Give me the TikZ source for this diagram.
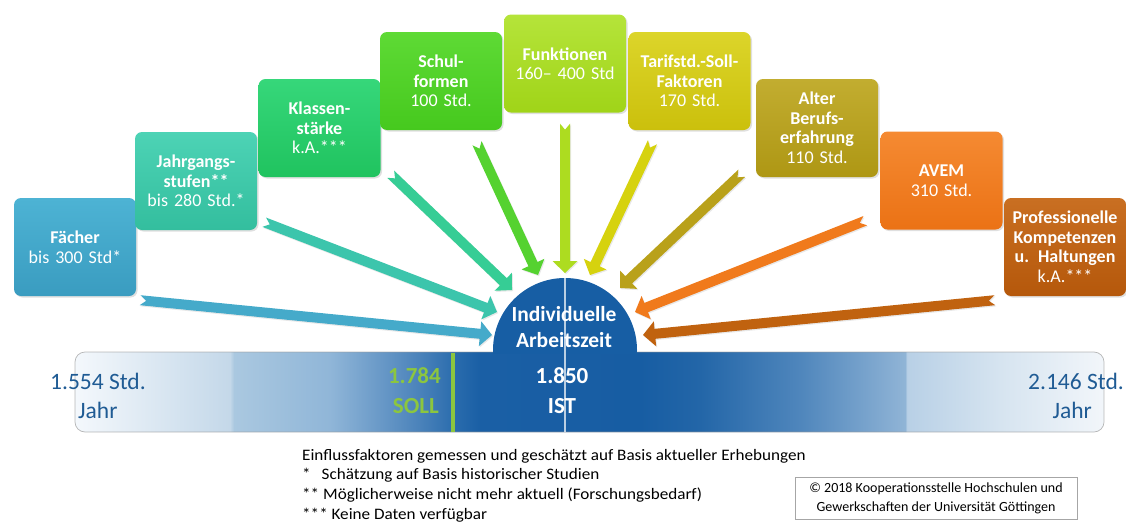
\documentclass[tikz,border=0pt]{standalone}
\usepackage{fontspec}
\setmainfont{Carlito}
\newfontfamily\footfont[FakeStretch=1.07]{Carlito}
\usetikzlibrary{calc,shadows}

\definecolor{c1t}{HTML}{4DB3D4}\definecolor{c1b}{HTML}{3A9CC0}
\definecolor{c2t}{HTML}{4DD3B5}\definecolor{c2b}{HTML}{33BE9E}
\definecolor{c3t}{HTML}{36D77A}\definecolor{c3b}{HTML}{20C35F}
\definecolor{c4t}{HTML}{5EDA35}\definecolor{c4b}{HTML}{46C91E}
\definecolor{c5t}{HTML}{B5E43A}\definecolor{c5b}{HTML}{A0D418}
\definecolor{c6t}{HTML}{DCD52A}\definecolor{c6b}{HTML}{CBC00C}
\definecolor{c7t}{HTML}{C2AD30}\definecolor{c7b}{HTML}{AE9714}
\definecolor{c8t}{HTML}{F58A32}\definecolor{c8b}{HTML}{EB7215}
\definecolor{c9t}{HTML}{C96F22}\definecolor{c9b}{HTML}{B5580B}
\definecolor{a1}{HTML}{45AACA}
\definecolor{a2}{HTML}{3CC5AC}
\definecolor{a3}{HTML}{36CD95}
\definecolor{a4}{HTML}{55D230}
\definecolor{a5}{HTML}{ADDC20}
\definecolor{a6}{HTML}{D6D20E}
\definecolor{a7}{HTML}{B9A11A}
\definecolor{a8}{HTML}{F07A1C}
\definecolor{a9}{HTML}{C0620F}
\definecolor{domeblue}{HTML}{175EA4}
\definecolor{numblue}{HTML}{1F5B94}
\definecolor{sollgreen}{HTML}{8CC63F}
\definecolor{bs0}{HTML}{F4F8FC}
\definecolor{bs1}{HTML}{C4D8E9}
\definecolor{bs2}{HTML}{AAC8E0}
\definecolor{bs3}{HTML}{90B6D8}
\definecolor{bs4}{HTML}{4A82BA}
\definecolor{bs5}{HTML}{2A6CAD}
\definecolor{bs6}{HTML}{1A5FA5}
\definecolor{bs7}{HTML}{175DA3}
\definecolor{bs8}{HTML}{2366A8}
\definecolor{bs9}{HTML}{4F86BC}
\definecolor{bs10}{HTML}{90B4D6}
\definecolor{bs11}{HTML}{B8D0E6}
\definecolor{bs12}{HTML}{D6E4F0}
\definecolor{bs13}{HTML}{F2F6FA}

\pgfdeclarehorizontalshading{barshade}{100bp}{color(0bp)=(bs0); color(25bp)=(bs0); color(32.53bp)=(bs1); color(32.73bp)=(bs2); color(37.39bp)=(bs3); color(41.76bp)=(bs4); color(43.46bp)=(bs5); color(44.68bp)=(bs6); color(52.45bp)=(bs7); color(55.37bp)=(bs8); color(60.23bp)=(bs9); color(65.33bp)=(bs10); color(65.43bp)=(bs11); color(69.95bp)=(bs12); color(75bp)=(bs13); color(100bp)=(bs13)}

\newcommand{\blkarrow}[3]{%
  \fill[#3, drop shadow={opacity=0.18, shadow xshift=1pt, shadow yshift=-1.2pt}]
    ($(#1)!5pt!90:(#2)$) -- ($(#1)!6pt!(#2)$) -- ($(#1)!5pt!-90:(#2)$)
    -- ($(#2)!12pt!(#1)!5pt!-90:(#2)$) -- ($(#2)!12pt!(#1)!12.5pt!-90:(#2)$)
    -- (#2)
    -- ($(#2)!12pt!(#1)!12.5pt!90:(#2)$) -- ($(#2)!12pt!(#1)!5pt!90:(#2)$) -- cycle;}

\tikzset{
  fbox/.style={rounded corners=7pt, minimum width=122pt, minimum height=98pt,
    inner sep=0pt, text width=118pt, align=center, text=white,
    font=\fontsize{18}{19.5}\selectfont,
    drop shadow={opacity=0.25, shadow xshift=1.5pt, shadow yshift=-1.5pt}},
  plain/.style={inner sep=0pt},
  bignum/.style={inner sep=0pt, font=\fontsize{23.5}{28}\selectfont, text=numblue},
  midnum/.style={inner sep=0pt, font=\fontsize{23}{28}\bfseries},
  foot/.style={inner sep=0pt, anchor=base west, font=\footfont\fontsize{16}{19}\selectfont}
}

\begin{document}
\begin{tikzpicture}[x=1pt,y=-1pt]
\useasboundingbox (0,0) rectangle (1126,522);

% factor boxes
\node[fbox, top color=c1t, bottom color=c1b] (b1) at (75,247) {\textbf{Fächer}\\bis 300 Std*};
\node[fbox, top color=c2t, bottom color=c2b] (b2) at (196,181) {\textbf{Jahrgangs-}\\\textbf{stufen**}\\bis 280 Std.*};
\node[fbox, top color=c3t, bottom color=c3b] (b3) at (319.5,128) {\textbf{Klassen-}\\\textbf{stärke}\\k.A.***};
\node[fbox, top color=c4t, bottom color=c4b] (b4) at (441,81) {\textbf{Schul-}\\\textbf{formen}\\100 Std.};
\node[fbox, top color=c5t, bottom color=c5b] (b5) at (565,63.5) {\textbf{Funktionen}\\160– 400 Std};
\node[fbox, top color=c6t, bottom color=c6b] (b6) at (689.5,81) {\textbf{Tarifstd.-Soll-}\\\textbf{Faktoren}\\170 Std.};
\node[fbox, top color=c7t, bottom color=c7b] (b7) at (817,128) {\textbf{Alter}\\\textbf{Berufs-}\\\textbf{erfahrung}\\110 Std.};
\node[fbox, top color=c8t, bottom color=c8b] (b8) at (941.5,180.5) {\textbf{AVEM}\\310 Std.};
\node[fbox, top color=c9t, bottom color=c9b] (b9) at (1065,247) {\textbf{Professionelle}\\\textbf{Kompetenzen}\\\textbf{u. Haltungen}\\k.A.***};

% centre of the dome
\coordinate (domec) at (565,350);

% arrow tails
\coordinate (t1) at ($(b1.south east)+(4,4)$);
\coordinate (t2) at ($(b2.south east)+(7,-8)$);
\coordinate (t3) at ($(b3.south east)+(10,-3)$);
\coordinate (t4) at ($(b4.south)+(36,13)$);
\coordinate (t5) at ($(b5.south)+(0,11)$);
\coordinate (t6) at ($(b6.south)+(-37,12)$);
\coordinate (t7) at ($(b7.south west)+(-14,-4)$);
\coordinate (t8) at ($(b8.south west)+(-15,-9)$);
\coordinate (t9) at ($(b9.south west)+(-9,4)$);
% arrow tips
\coordinate (p1) at ($(domec)+(-73,-15)$);
\coordinate (p2) at ($(domec)+(-68,-38)$);
\coordinate (p3) at ($(domec)+(-53,-60)$);
\coordinate (p4) at ($(domec)+(-27,-75)$);
\coordinate (p5) at ($(domec)+(0,-77)$);
\coordinate (p6) at ($(domec)+(25,-75)$);
\coordinate (p7) at ($(domec)+(55,-62)$);
\coordinate (p8) at ($(domec)+(70,-38)$);
\coordinate (p9) at ($(domec)+(78,-15)$);

\blkarrow{t1}{p1}{a1}
\blkarrow{t2}{p2}{a2}
\blkarrow{t3}{p3}{a3}
\blkarrow{t4}{p4}{a4}
\blkarrow{t5}{p5}{a5}
\blkarrow{t6}{p6}{a6}
\blkarrow{t7}{p7}{a7}
\blkarrow{t8}{p8}{a8}
\blkarrow{t9}{p9}{a9}

% bar
\path[shading=barshade, rounded corners=10pt] (75,352) rectangle (1104,432);
\draw[black!40, opacity=0.7, line width=0.7pt, rounded corners=10pt] (75,352) rectangle (1104,432);

% dome
\begin{scope}
  \clip (470,250) rectangle (660,353.5);
  \fill[domeblue] (domec) circle[radius=72pt];
\end{scope}

% SOLL marker
\draw[sollgreen, line width=4.5pt] (453,352.5) -- (453,431.5);

% texts
\node[plain, anchor=base, text=white, font=\fontsize{21.5}{26}\bfseries] (ia1) at (564,321) {Individuelle};
\node[plain, anchor=base, text=white, font=\fontsize{21.5}{26}\bfseries] (ia2) at (564,347) {Arbeitszeit};
\node[midnum, anchor=base, text=white] (ist1) at (562,383) {1.850};
\node[midnum, anchor=base, text=white] (ist2) at (562,413) {IST};
\node[midnum, anchor=base east, text=sollgreen] (soll1) at (441,383) {1.784};
\node[midnum, anchor=base east, text=sollgreen] (soll2) at (439,413) {SOLL};
\node[bignum, anchor=base west] (l1) at (50,389) {1.554 Std.};
\node[bignum, anchor=base west] (l2) at (78,418) {Jahr};
\node[bignum, anchor=base east] (r1) at (1124,389) {2.146 Std.};
\node[bignum, anchor=base east] (r2) at (1092,418) {Jahr};

% white divider line
\draw[white, opacity=0.7, line width=2pt] (565,278) -- (565,432);

% footnotes
\node[foot] (f1) at (302,460) {Einflussfaktoren gemessen und geschätzt auf Basis aktueller Erhebungen};
\node[foot] (f2) at (302,479.5) {*\hspace{11pt}Schätzung auf Basis historischer Studien};
\node[foot] (f3) at (302,499.5) {** Möglicherweise nicht mehr aktuell (Forschungsbedarf)};
\node[foot] (f4) at (302,519.5) {*** Keine Daten verfügbar};

% copyright
\node[draw=black!35, fill=white, minimum width=282pt, minimum height=42pt, inner sep=0pt,
  align=center, font=\fontsize{14}{19}\selectfont,
  drop shadow={opacity=0.15, shadow xshift=1pt, shadow yshift=-1pt}] (copy) at (936,498)
  {© 2018 Kooperationsstelle Hochschulen und\\Gewerkschaften der Universität Göttingen};
\end{tikzpicture}
\end{document}
